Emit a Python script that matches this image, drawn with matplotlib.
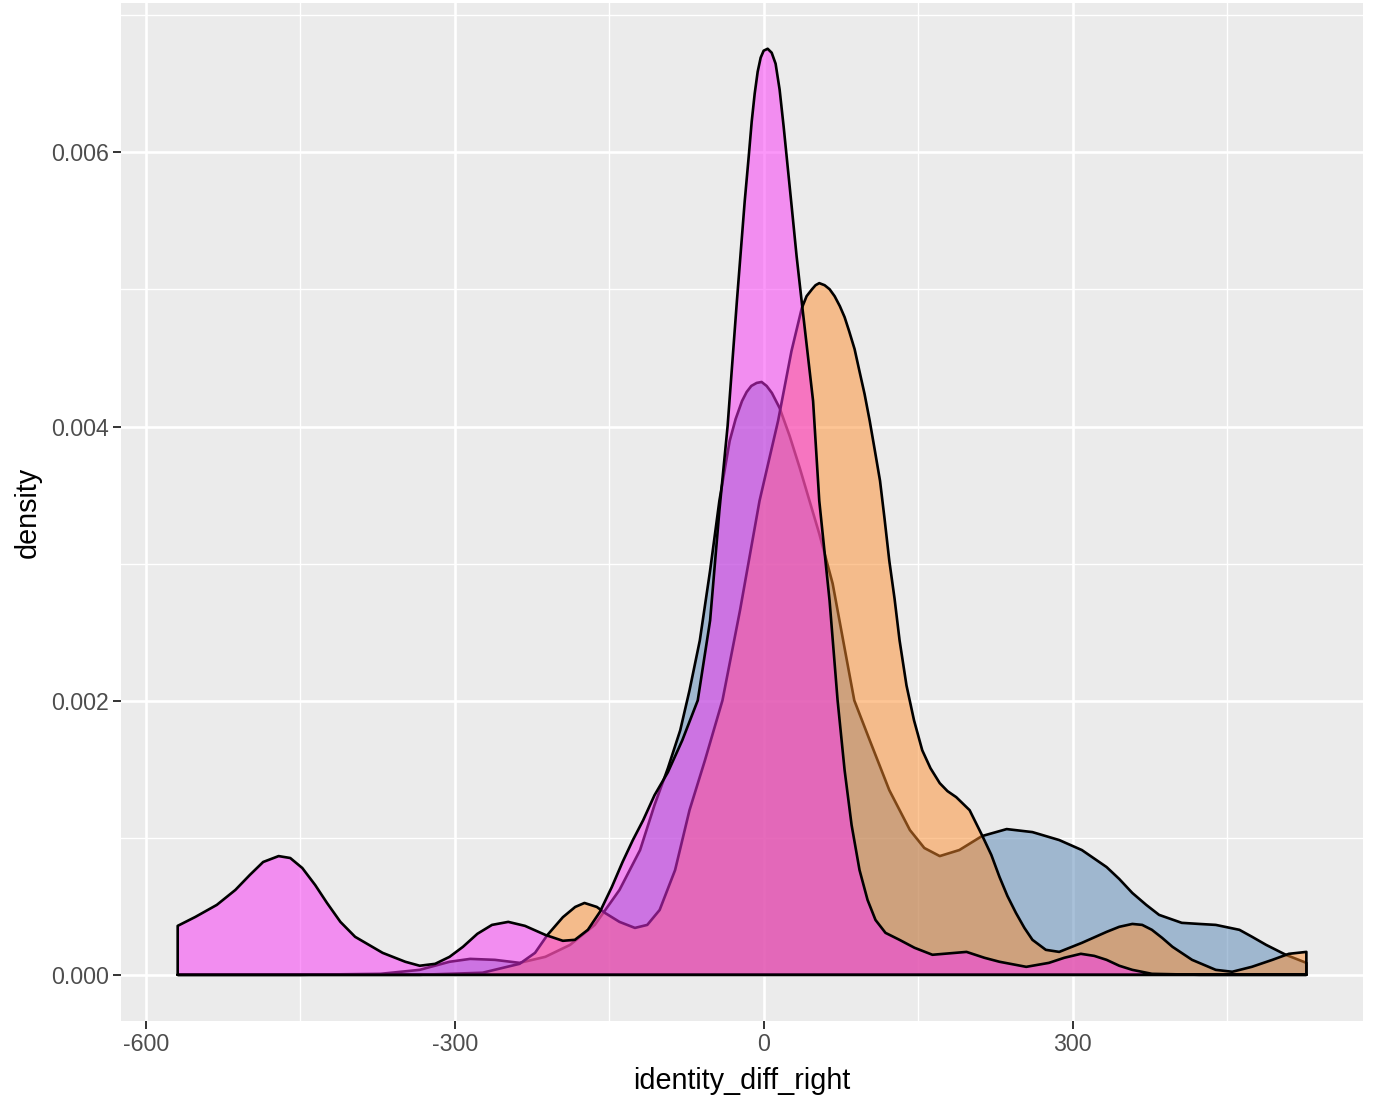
import numpy as np
import matplotlib.pyplot as plt
from matplotlib.ticker import FixedLocator

plt.rcParams['font.family'] = ['Liberation Sans', 'DejaVu Sans']

# 曲线数据
blue_x = [-569, -450, -372, -334, -305, -285, -261, -237, -212, -188, -164, -140, -120, -106,
          -93, -81, -72, -62, -52, -43, -33, -27.2, -21, -16.5, -12, -6.8, -2, 2.9, 8, 15.5,
          25.2, 35, 54, 67, 79, 88, 103, 122, 142, 156, 171, 190, 212, 236, 261, 287, 309,
          333, 345.3, 358, 371.5, 384, 406, 422.9, 439, 462, 474.3, 488, 507, 527]
blue_y = [0.0, 0.0, 0.000007, 0.000036, 0.000095, 0.000116, 0.000109, 0.000087, 0.000131,
          0.000218, 0.000364, 0.000619, 0.00091, 0.001238, 0.001507, 0.001784, 0.002075,
          0.002439, 0.002949, 0.003458, 0.003895, 0.004055, 0.004186, 0.004252, 0.004296,
          0.004318, 0.004325, 0.004296, 0.004245, 0.004135, 0.003932, 0.003699, 0.003218,
          0.002854, 0.002366, 0.002002, 0.001711, 0.001347, 0.001056, 0.000925, 0.000866,
          0.00091, 0.001012, 0.001063, 0.001041, 0.000983, 0.00091, 0.000786, 0.000699,
          0.000597, 0.00051, 0.000437, 0.000379, 0.000371, 0.000364, 0.000328, 0.000277,
          0.000218, 0.000146, 0.000087]

orange_x = [-569, -334, -273, -237, -222, -210, -195, -183, -174, -162, -154, -140, -125,
            -113, -101, -86, -72, -57, -40, -23, -4, 14, 27, 37, 41.7, 47, 50.4, 54, 59.2, 64,
            68.9, 74, 78.6, 83, 88.3, 93, 98, 103, 107.7, 113, 117.4, 122, 127.1, 132, 138.7,
            146, 154, 162, 171, 178.5, 187, 200, 212, 221.1, 229, 236.7, 245, 253.2, 261, 274,
            287, 309, 333, 345.3, 358, 367.6, 377, 387, 397, 416, 439, 455, 474, 494, 510, 527]
orange_y = [0.0, 0.0, 0.000015, 0.00008, 0.00016, 0.00029, 0.00042, 0.000495, 0.000524,
            0.000495, 0.000451, 0.000386, 0.000342, 0.000364, 0.000473, 0.000764, 0.001201,
            0.001565, 0.002002, 0.002657, 0.003458, 0.004041, 0.00455, 0.004863, 0.004951,
            0.005002, 0.005031, 0.005046, 0.005031, 0.005002, 0.004951, 0.004878, 0.004798,
            0.004696, 0.004565, 0.004405, 0.004237, 0.004041, 0.003837, 0.003604, 0.003327,
            0.003021, 0.002745, 0.002439, 0.002111, 0.001857, 0.001638, 0.001507, 0.001398,
            0.00134, 0.001296, 0.001201, 0.001019, 0.000874, 0.000714, 0.000575, 0.000451,
            0.000342, 0.000255, 0.000182, 0.000167, 0.000233, 0.000313, 0.00035, 0.000371,
            0.000364, 0.000328, 0.000269, 0.000204, 0.000109, 0.000036, 0.000022, 0.000058,
            0.000109, 0.000153, 0.000167]

magenta_x = [-569, -551.9, -531, -513, -499, -486, -471, -459.7, -448, -435.5, -424, -411,
             -396.7, -370, -348, -334, -319, -305, -292, -278, -263.8, -248, -231.8, -212,
             -195, -183.3, -170.7, -159, -147.4, -137, -127, -117, -106, -93, -79, -64, -52,
             -43, -35, -26, -18.4, -14.5, -11.6, -8.7, -5.8, -2.9, 0, 3.9, 7.8, 11.6, 15.5,
             19.4, 23.3, 27.2, 32, 36.9, 48, 54, 64, 71.8, 78.6, 85.4, 93.1, 100.9, 108.6,
             118.3, 131.9, 146.5, 163.9, 197, 214.4, 229, 255, 277, 291.9, 308, 321, 333,
             345.3, 358, 377, 423, 527]
magenta_y = [0.000357, 0.000422, 0.00051, 0.000619, 0.000728, 0.000823, 0.000866, 0.000852,
             0.000779, 0.000655, 0.000524, 0.000386, 0.000277, 0.00016, 0.000095, 0.000066,
             0.00008, 0.000131, 0.000204, 0.000299, 0.000364, 0.000386, 0.000357, 0.000291,
             0.000248, 0.000255, 0.000328, 0.000459, 0.000641, 0.000823, 0.000983, 0.001128,
             0.00131, 0.001478, 0.001711, 0.002002, 0.002585, 0.003386, 0.004004, 0.004914,
             0.005643, 0.00597, 0.006225, 0.006429, 0.006589, 0.006691, 0.006742, 0.006756,
             0.006727, 0.006647, 0.006458, 0.006189, 0.005897, 0.005606, 0.005242, 0.004914,
             0.004186, 0.003458, 0.00273, 0.002002, 0.001493, 0.001092, 0.000764, 0.000546,
             0.0004, 0.000306, 0.000255, 0.000197, 0.000146, 0.000167, 0.000124, 0.000095,
             0.000058, 0.000087, 0.000124, 0.000153, 0.000138, 0.000109, 0.000066, 0.000036,
             0.000007, 0.0, 0.0]

groups = [
    (blue_x, blue_y, (85/255, 133/255, 181/255, 0.5)),
    (orange_x, orange_y, (253/255, 141/255, 45/255, 0.5)),
    (magenta_x, magenta_y, (249/255, 49/255, 245/255, 0.5)),
]

fig = plt.figure(figsize=(13.74, 11.04), dpi=100)
ax = fig.add_axes([0.0881, 0.0752, 0.9039, 0.9221])
ax.set_facecolor('#EBEBEB')

# 按顺序画密度区域，后画的覆盖前面的轮廓
for xs, ys, fc in groups:
    px = list(xs) + [xs[-1], xs[0]]
    py = list(ys) + [0, 0]
    ax.fill(px, py, facecolor=fc, edgecolor='black', linewidth=1.9, zorder=3,
            joinstyle='round')

ax.set_xlim(-624, 582)
ax.set_ylim(-0.000337, 0.00709)

ax.xaxis.set_major_locator(FixedLocator([-600, -300, 0, 300]))
ax.xaxis.set_minor_locator(FixedLocator([-450, -150, 150, 450]))
ax.yaxis.set_major_locator(FixedLocator([0, 0.002, 0.004, 0.006]))
ax.yaxis.set_minor_locator(FixedLocator([0.001, 0.003, 0.005, 0.007]))
ax.set_xticklabels(['-600', '-300', '0', '300'])
ax.set_yticklabels(['0.000', '0.002', '0.004', '0.006'])

ax.grid(which='major', color='white', linewidth=1.9, zorder=0)
ax.grid(which='minor', color='white', linewidth=1.0, zorder=0)
ax.set_axisbelow(True)

for s in ax.spines.values():
    s.set_visible(False)

ax.tick_params(which='major', length=5.5, width=1.4, color='#333333',
               labelsize=16.7, labelcolor='#4D4D4D', pad=3)
ax.tick_params(which='minor', length=0)

ax.set_xlabel('identity_diff_right', fontsize=20.7, color='black', labelpad=8)
ax.set_ylabel('density', fontsize=20.7, color='black', labelpad=7)

fig.savefig('out.png', dpi=100)
